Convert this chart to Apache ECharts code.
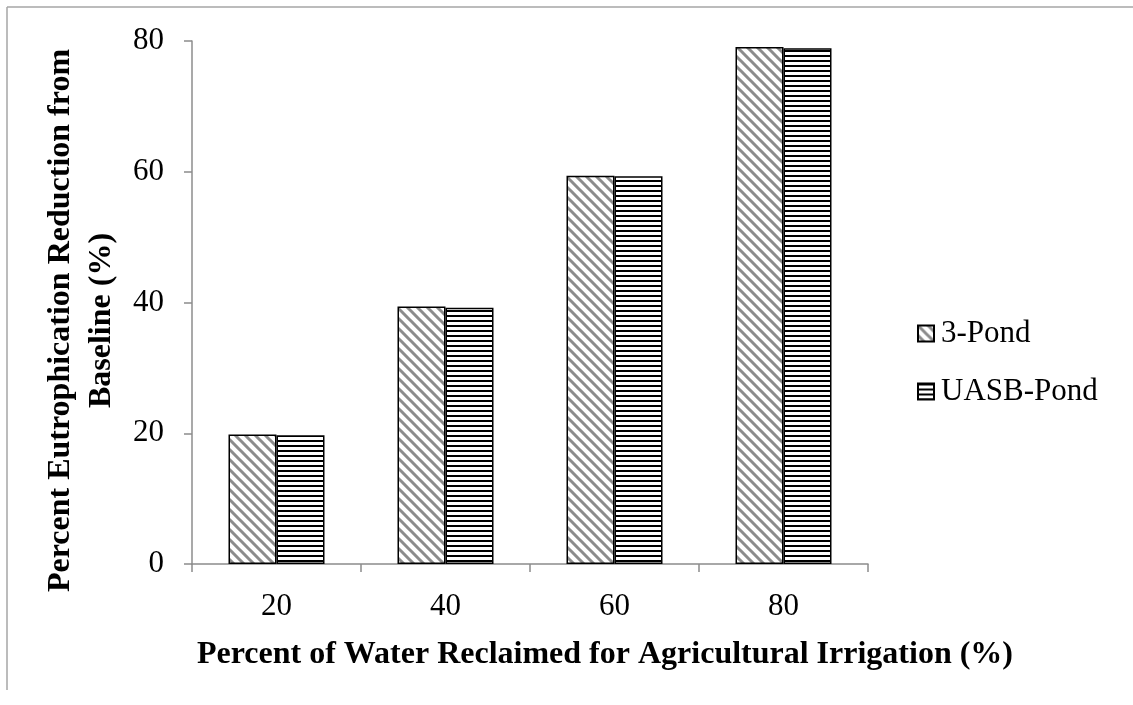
<!DOCTYPE html>
<html>
<head>
<meta charset="utf-8">
<script src="https://cdn.jsdelivr.net/npm/echarts@6/dist/echarts.min.js"></script>
<style>
  html, body { margin: 0; padding: 0; background: #fff; }
  #chart { width: 1133px; height: 705px; }
</style>
</head>
<body>
<div id="chart"></div>
<script>
// chart data
const categories = ['20', '40', '60', '80']
const pond3 = [19.8, 39.4, 59.4, 79.1]
const uasbPond = [19.7, 39.2, 59.3, 78.9]
const seriesNames = ['3-Pond', 'UASB-Pond']
const yTicks = { min: 0, max: 80, interval: 20 }

const font = '"Liberation Serif", "Times New Roman", serif'

// diagonal hatch (top-left to bottom-right), gray on white
function diagPattern() {
  const c = document.createElement('canvas')
  c.width = 10
  c.height = 10
  const ctx = c.getContext('2d')
  ctx.fillStyle = '#fff'
  ctx.fillRect(0, 0, 10, 10)
  ctx.strokeStyle = '#8c8c8c'
  ctx.lineWidth = 3
  ctx.beginPath()
  ctx.moveTo(-5, -5); ctx.lineTo(15, 15)
  ctx.moveTo(-5, 5); ctx.lineTo(5, 15)
  ctx.moveTo(5, -5); ctx.lineTo(15, 5)
  ctx.stroke()
  return c
}

// horizontal black stripes
function horizPattern() {
  const c = document.createElement('canvas')
  c.width = 10
  c.height = 5
  const ctx = c.getContext('2d')
  ctx.fillStyle = '#fff'
  ctx.fillRect(0, 0, 10, 5)
  ctx.fillStyle = '#000'
  ctx.fillRect(0, 0, 10, 2)
  return c
}

const chart = echarts.init(document.getElementById('chart'))

chart.setOption({
  animation: false,
  backgroundColor: '#fff',
  textStyle: { fontFamily: font, color: '#000' },
  graphic: [
    { type: 'line', shape: { x1: 7, y1: 7, x2: 1133, y2: 7 }, style: { stroke: '#a6a6a6', lineWidth: 1.5 } },
    { type: 'line', shape: { x1: 7, y1: 7, x2: 7, y2: 690 }, style: { stroke: '#a6a6a6', lineWidth: 1.5 } }
  ],
  grid: {
    left: 192,
    top: 41,
    right: 265,
    bottom: 141
  },
  legend: {
    orient: 'vertical',
    left: 912,
    top: 313,
    itemWidth: 16,
    itemHeight: 16,
    itemGap: 27,
    icon: 'rect',
    textStyle: { fontFamily: font, fontSize: 31, color: '#000', padding: [0, 0, 0, 2] },
    data: seriesNames
  },
  xAxis: {
    type: 'category',
    data: categories,
    name: 'Percent of Water Reclaimed for Agricultural Irrigation (%)',
    nameLocation: 'middle',
    nameGap: 75,
    nameTextStyle: {
      fontFamily: font, fontSize: 32, fontWeight: 'bold', color: '#000',
      padding: [0, 0, 0, 150]
    },
    axisLine: { lineStyle: { color: '#8c8c8c', width: 1.5 } },
    axisTick: { show: true, length: 8, lineStyle: { color: '#8c8c8c', width: 1.5 } },
    axisLabel: { fontFamily: font, fontSize: 31, color: '#000', margin: 27 }
  },
  yAxis: {
    type: 'value',
    min: yTicks.min,
    max: yTicks.max,
    interval: yTicks.interval,
    name: 'Percent Eutrophication Reduction from\nBaseline (%)',
    nameLocation: 'middle',
    nameGap: 66,
    nameTextStyle: {
      fontFamily: font, fontSize: 32, fontWeight: 'bold', color: '#000',
      lineHeight: 41, align: 'center',
      padding: [0, 36, 0, 0]
    },
    splitLine: { show: false },
    axisLine: { show: true, lineStyle: { color: '#8c8c8c', width: 1.5 } },
    axisTick: { show: true, length: 8, lineStyle: { color: '#8c8c8c', width: 1.5 } },
    axisLabel: { fontFamily: font, fontSize: 31, color: '#000', margin: 28 }
  },
  series: [
    {
      name: seriesNames[0],
      type: 'bar',
      barWidth: 48,
      barGap: '0%',
      data: pond3,
      itemStyle: {
        color: { image: diagPattern(), repeat: 'repeat' },
        borderColor: '#000',
        borderWidth: 1.5
      }
    },
    {
      name: seriesNames[1],
      type: 'bar',
      barWidth: 48,
      barGap: '0%',
      data: uasbPond,
      itemStyle: {
        color: { image: horizPattern(), repeat: 'repeat' },
        borderColor: '#000',
        borderWidth: 1.5
      }
    }
  ]
})
</script>
</body>
</html>
